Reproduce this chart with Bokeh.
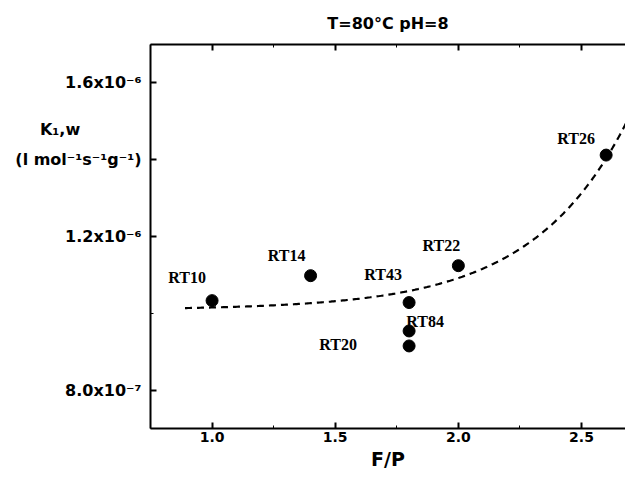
import numpy as np
from bokeh.plotting import figure
from bokeh.models import (ColumnDataSource, LabelSet, LinearAxis, Range1d,
                          SingleIntervalTicker, FixedTicker, PrintfTickFormatter,
                          CustomJSTickFormatter)
from bokeh.embed import file_html
from bokeh.resources import INLINE

# ---- data ----
samples = ["RT10", "RT14", "RT43", "RT84", "RT20", "RT22", "RT26"]
fp = [1.0, 1.4, 1.8, 1.8, 1.8, 2.0, 2.6]
k1w = [1.033e-6, 1.098e-6, 1.028e-6, 0.954e-6, 0.915e-6, 1.124e-6, 1.412e-6]

# exponential fit drawn as dashed line: y = y0 + a*exp(c*x)
fit_y0 = 1.009e-6
fit_a = 4.57e-10
fit_c = 2.6
fit_x_start, fit_x_end = 0.89, 2.75

ytick_vals = [0.8e-6, 1.2e-6, 1.6e-6]
ytick_text = ["8.0x10\u207b\u2077", "1.2x10\u207b\u2076", "1.6x10\u207b\u2076"]
yminor_vals = [1.0e-6]
ytitle_pos = 1.4e-6
NB = "\u00a0"
ytitle = ("K\u2081,w" + NB * 11 + "\n(l mol\u207b\u00b9s\u207b\u00b9g\u207b\u00b9)\n" + NB)

title_text = "T=80\u00b0C pH=8"
xlabel = "F/P"

# ---- styling (label offsets in pixels) ----
lab_dx = [-25, -24, -26, 16, -71, -17, -30]
lab_dy = [23, 20, 28, 9, 1, 20, 17]

X0, X1 = 0.75, 2.6786
Y0, Y1 = 0.7e-6, 1.7e-6

p = figure(width=625, height=474, output_backend="svg", toolbar_location=None,
           x_range=Range1d(X0, X1), y_range=Range1d(Y0, Y1),
           min_border_left=150, min_border_right=0, min_border_top=44,
           min_border_bottom=46)
p.outline_line_color = None
p.xgrid.visible = False
p.ygrid.visible = False
p.background_fill_color = "white"
p.border_fill_color = "white"

p.title.text = title_text
p.title.align = "center"
p.title.text_font = "DejaVu Sans"
p.title.text_font_style = "bold"
p.title.text_font_size = "16px"
p.title.text_color = "black"
p.title.standoff = 23

xa = p.xaxis[0]
xa.ticker = SingleIntervalTicker(interval=0.5, num_minor_ticks=2)
xa.formatter = PrintfTickFormatter(format="%.1f")
xa.axis_line_width = 2
xa.major_tick_in = 6
xa.major_tick_out = 0
xa.minor_tick_in = 3
xa.minor_tick_out = 0
xa.major_tick_line_width = 2
xa.major_label_text_font = "DejaVu Sans"
xa.major_label_text_font_style = "bold"
xa.major_label_text_font_size = "14px"
xa.major_label_text_color = "black"
xa.major_label_standoff = 3
xa.axis_label = xlabel
xa.axis_label_text_font = "DejaVu Sans"
xa.axis_label_text_font_style = "bold"
xa.axis_label_text_font_size = "19px"
xa.axis_label_text_color = "black"
xa.axis_label_standoff = 3

ya = p.yaxis[0]
ya.ticker = FixedTicker(ticks=ytick_vals + [ytitle_pos], minor_ticks=yminor_vals)
ya.major_label_overrides = {**{v: t for v, t in zip(ytick_vals, ytick_text)},
                            ytitle_pos: ytitle}
ya.axis_line_width = 2
ya.major_tick_in = 6
ya.major_tick_out = 0
ya.minor_tick_in = 3
ya.minor_tick_out = 0
ya.major_tick_line_width = 2
ya.major_label_text_font = "DejaVu Sans"
ya.major_label_text_font_style = "bold"
ya.major_label_text_font_size = "16px"
ya.major_label_text_color = "black"
ya.major_label_text_line_height = 1.6
ya.major_label_standoff = 9

top = LinearAxis(ticker=SingleIntervalTicker(interval=0.5, num_minor_ticks=2),
                 formatter=CustomJSTickFormatter(code="return ''"))
top.axis_line_width = 2
top.major_tick_in = 6
top.major_tick_out = 0
top.minor_tick_in = 3
top.minor_tick_out = 0
top.major_tick_line_width = 2
top.major_label_standoff = 0
top.major_label_text_font_size = "1px"
p.add_layout(top, "above")

# fitted curve
fx = np.linspace(fit_x_start, fit_x_end, 300)
fy = fit_y0 + fit_a * np.exp(fit_c * fx)
p.line(fx, fy, line_dash="7 5", line_width=2.2, line_color="black")

src = ColumnDataSource(dict(x=fp, y=k1w, name=samples, dx=lab_dx, dy=lab_dy))
p.scatter("x", "y", source=src, size=12, color="black")
p.add_layout(LabelSet(x="x", y="y", text="name", source=src, x_offset="dx", y_offset="dy",
                      text_align="center", text_baseline="middle",
                      text_font="Liberation Serif", text_font_style="bold",
                      text_font_size="16px", text_color="black"))

open("out.html", "w").write(file_html(p, INLINE))
